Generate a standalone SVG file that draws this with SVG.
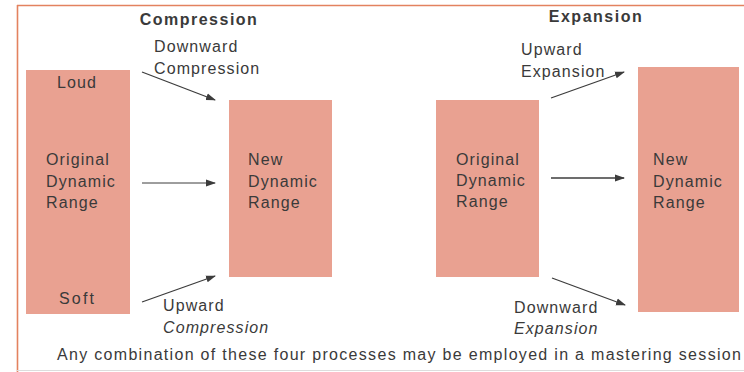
<svg xmlns="http://www.w3.org/2000/svg" width="744" height="372" viewBox="0 0 744 372">
<defs>
<marker id="ah" markerWidth="10" markerHeight="8" refX="9" refY="4" orient="auto" markerUnits="userSpaceOnUse">
<path d="M0,0.5 L10,4 L0,7.5 Z" fill="#3c3c3c"/>
</marker>
</defs>
<style>
.box{fill:#E9A191;}
.t{font-family:"Liberation Sans",Arial,sans-serif;font-size:16px;fill:#3a3a3a;letter-spacing:1.1px;}
.h{font-family:"Liberation Sans",Arial,sans-serif;font-size:16px;font-weight:bold;fill:#3a3a3a;letter-spacing:1.5px;}
.i{font-style:italic;}
.c{stroke:#3c3c3c;stroke-width:1.3;fill:none;marker-end:url(#ah);}
</style>
<rect width="744" height="372" fill="#ffffff"/>
<g id="frame">
<line x1="17" y1="5.5" x2="744" y2="5.5" stroke="#E3825F" stroke-width="1.6"/>
<line x1="17.5" y1="5" x2="17.5" y2="372" stroke="#E3825F" stroke-width="1.6"/>
<line x1="17" y1="370.5" x2="744" y2="370.5" stroke="#dddddd" stroke-width="1"/>
</g>
<g id="title-compression"><text class="h" x="199" y="25" text-anchor="middle">Compression</text></g>
<g id="title-expansion"><text class="h" x="596" y="22" text-anchor="middle">Expansion</text></g>
<g id="comp-original">
<rect class="box" x="26" y="70" width="104" height="244"/>
<text class="t" x="57" y="88">Loud</text>
<text class="t" x="46" y="165">Original</text>
<text class="t" x="46" y="187">Dynamic</text>
<text class="t" x="46" y="208">Range</text>
<text class="t" x="59" y="304" style="letter-spacing:2.2px">Soft</text>
</g>
<g id="comp-new">
<rect class="box" x="229" y="100" width="103" height="177"/>
<text class="t" x="248" y="165">New</text>
<text class="t" x="248" y="187">Dynamic</text>
<text class="t" x="248" y="208">Range</text>
</g>
<g id="exp-original">
<rect class="box" x="436" y="100" width="103" height="177"/>
<text class="t" x="456" y="165">Original</text>
<text class="t" x="456" y="186">Dynamic</text>
<text class="t" x="456" y="207">Range</text>
</g>
<g id="exp-new">
<rect class="box" x="638" y="67" width="101" height="245"/>
<text class="t" x="653" y="165">New</text>
<text class="t" x="653" y="187">Dynamic</text>
<text class="t" x="653" y="208">Range</text>
</g>
<g id="labels">
<text class="t" x="154" y="52">Downward</text>
<text class="t" x="154" y="74">Compression</text>
<text class="t" x="163" y="311">Upward</text>
<text class="t i" x="163" y="333">Compression</text>
<text class="t" x="521" y="55">Upward</text>
<text class="t" x="521" y="77">Expansion</text>
<text class="t" x="514" y="313">Downward</text>
<text class="t i" x="514" y="334">Expansion</text>
<text class="t" x="57" y="360" textLength="685" lengthAdjust="spacing">Any combination of these four processes may be employed in a mastering session</text>
</g>
<g id="connectors">
<line class="c" x1="142" y1="72" x2="215" y2="100"/>
<line class="c" x1="142" y1="183" x2="215" y2="183" style="stroke-width:1"/>
<line class="c" x1="142" y1="302" x2="215" y2="276"/>
<line class="c" x1="551" y1="98" x2="624" y2="72"/>
<line class="c" x1="551" y1="178" x2="624" y2="178"/>
<line class="c" x1="552" y1="278" x2="625" y2="305"/>
</g>
</svg>
